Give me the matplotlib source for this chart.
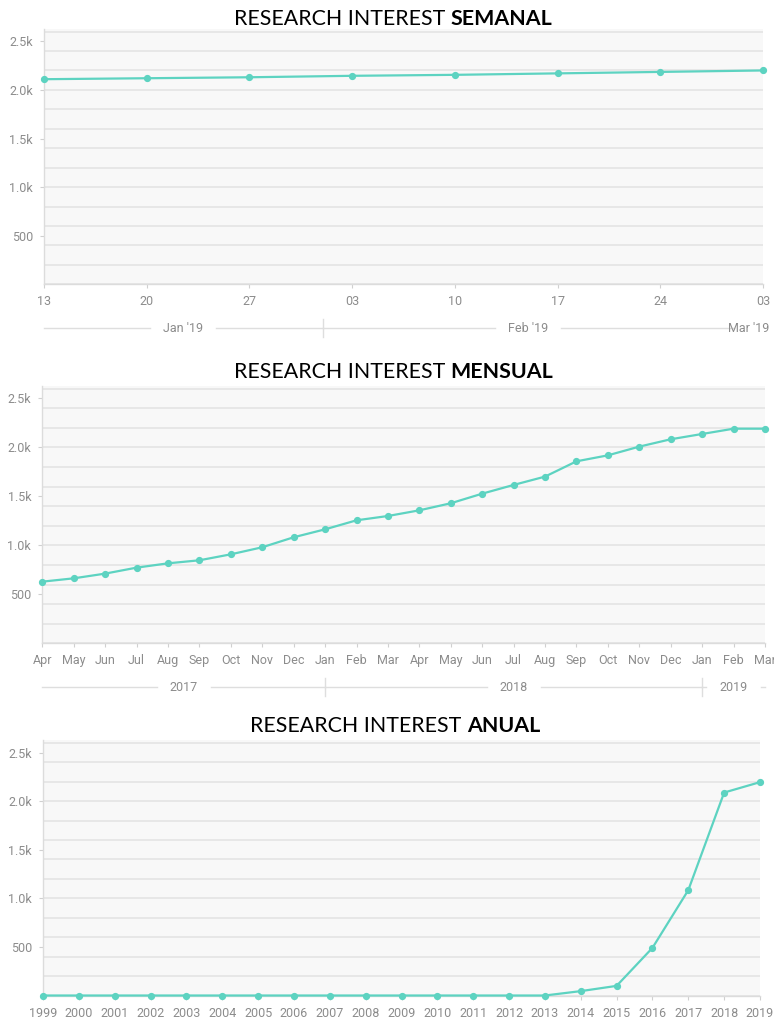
import numpy as np
import matplotlib
matplotlib.use("Agg")
import matplotlib.pyplot as plt
import matplotlib.transforms as mtransforms
from matplotlib.ticker import MultipleLocator, FixedLocator, FuncFormatter

W, H = 774, 1019

# weekly
week_dates = ["2019-01-13", "2019-01-20", "2019-01-27", "2019-02-03",
              "2019-02-10", "2019-02-17", "2019-02-24", "2019-03-03"]
week_values = [2110, 2120, 2130, 2145, 2155, 2170, 2185, 2200]

# monthly
month_labels = ["Apr", "May", "Jun", "Jul", "Aug", "Sep", "Oct", "Nov", "Dec",
                "Jan", "Feb", "Mar", "Apr", "May", "Jun", "Jul", "Aug", "Sep",
                "Oct", "Nov", "Dec", "Jan", "Feb", "Mar"]
month_years = [2017, 2017, 2017, 2017, 2017, 2017, 2017, 2017, 2017,
               2018, 2018, 2018, 2018, 2018, 2018, 2018, 2018, 2018,
               2018, 2018, 2018, 2019, 2019, 2019]
month_values = [629, 663, 711, 772, 816, 847, 908, 980, 1082, 1163, 1255, 1299,
                1357, 1429, 1527, 1616, 1701, 1857, 1918, 2007, 2082, 2136, 2190, 2190]

# yearly
years = [1999, 2000, 2001, 2002, 2003, 2004, 2005, 2006, 2007, 2008, 2009,
         2010, 2011, 2012, 2013, 2014, 2015, 2016, 2017, 2018, 2019]
year_values = [0, 0, 0, 0, 0, 0, 0, 0, 0, 0, 0, 0, 0, 0, 0,
               45, 99, 490, 1084, 2088, 2195]

LINE = "#5dd3c1"
TICK = "#8c8c8c"
GRID = "#e2e2e2"
YTOP = 2625

plt.rcParams["font.family"] = ["Roboto", "DejaVu Sans"]


def px_axes(fig, left, right, bottom, scale):
	top = bottom - YTOP * scale
	return fig.add_axes([left / W, 1 - bottom / H, (right - left) / W, (bottom - top) / H])


def style(ax):
	ax.set_facecolor("#f8f8f8")
	ax.set_ylim(0, YTOP)
	ax.yaxis.set_major_locator(FixedLocator([500, 1000, 1500, 2000, 2500]))
	ax.yaxis.set_major_formatter(FuncFormatter(lambda v, p: "%d" % v if v < 1000 else "%.1fk" % (v / 1000)))
	ax.yaxis.set_minor_locator(MultipleLocator(200))
	ax.yaxis.remove_overlapping_locs = False
	ax.grid(False, which="major")
	ax.grid(True, which="minor", axis="y", color=GRID, lw=1.1)
	ax.set_axisbelow(True)
	for s in ["top", "right"]:
		ax.spines[s].set_visible(False)
	for s in ["left", "bottom"]:
		ax.spines[s].set_color("#dcdcdc")
		ax.spines[s].set_linewidth(1.0)
	ax.tick_params(axis="y", which="major", length=3, width=0.8, color="#d0d0d0", pad=5, labelsize=9, labelcolor=TICK)
	ax.tick_params(axis="y", which="minor", length=0)
	ax.tick_params(axis="x", length=3, width=0.8, color="#d0d0d0", pad=5, labelsize=9, labelcolor=TICK)


def series(ax, x, y):
	ax.plot(x, y, color=LINE, lw=1.6, marker="o", ms=4.2, clip_on=False, zorder=4)


def title(fig, x, y, normal, bold):
	t = fig.text(x / W, 1 - y / H, normal, fontsize=15.4, family="Lato", va="baseline", ha="left")
	plt.annotate(bold, xy=(1, 0), xycoords=t, va="bottom", ha="left", fontsize=15.4, family="Lato",
		fontweight="bold", annotation_clip=False)


def group_row(fig, ax, groups, y, gap=13):
	trans = mtransforms.blended_transform_factory(ax.transData, ax.transAxes)
	renderer = fig.canvas.get_renderer()
	inv = ax.transData.inverted()
	x0 = groups[0][0]
	for start, end, label in groups:
		t = ax.text((start + end) / 2, y, label, transform=trans, ha="center", va="center",
			fontsize=9, color=TICK, clip_on=False)
		bb = t.get_window_extent(renderer)
		a = inv.transform((bb.x0 - gap, 0))[0]
		b = inv.transform((bb.x1 + gap, 0))[0]
		if a > start:
			ax.plot([start, a], [y, y], transform=trans, color="#dedede", lw=1, clip_on=False)
		if b < end:
			ax.plot([b, end], [y, y], transform=trans, color="#dedede", lw=1, clip_on=False)
		if start > x0 and not (a < start < b):
			ax.plot([start, start], [y - 0.035, y + 0.035], transform=trans, color="#dedede", lw=1, clip_on=False)


fig = plt.figure(figsize=(W / 100, H / 100), dpi=100)

# weekly panel
ax1 = px_axes(fig, 44, 763, 284.3, 0.0972)
style(ax1)
d = np.array(week_dates, dtype="datetime64[D]")
wx = (d - d[0]).astype(float)
series(ax1, wx, week_values)
ax1.set_xlim(wx[0], wx[-1])
ax1.set_xticks(wx)
ax1.set_xticklabels([s[-2:] for s in week_dates])
months = np.arange(d[0].astype("datetime64[M]"), d[-1].astype("datetime64[M]") + 1)
wgroups = []
for m in months:
	start = max((m.astype("datetime64[D]") - d[0]).astype(float), wx[0])
	end = min(((m + 1).astype("datetime64[D]") - d[0]).astype(float), wx[-1])
	name = m.astype(object).strftime("%b '%y")
	wgroups.append((start, end, name))
title(fig, 234, 25, "RESEARCH INTEREST ", "SEMANAL")

# monthly panel
ax2 = px_axes(fig, 42.3, 765, 643.3, 0.098)
style(ax2)
mx = np.arange(len(month_values))
series(ax2, mx, month_values)
ax2.set_xlim(0, len(month_values) - 1)
ax2.set_xticks(mx)
ax2.set_xticklabels(month_labels)
mgroups = []
for yr in sorted(set(month_years)):
	idx = [i for i, v in enumerate(month_years) if v == yr]
	end = idx[-1] + 1 if idx[-1] + 1 < len(month_years) else idx[-1]
	mgroups.append((idx[0], end, str(yr)))
title(fig, 234, 378, "RESEARCH INTEREST ", "MENSUAL")

# yearly panel
ax3 = px_axes(fig, 43, 760, 995.5, 0.0972)
style(ax3)
series(ax3, years, year_values)
ax3.set_xlim(years[0], years[-1])
ax3.set_xticks(years)
ax3.set_xticklabels([str(y) for y in years])
title(fig, 250, 732, "RESEARCH INTEREST ", "ANUAL")

fig.canvas.draw()
group_row(fig, ax1, wgroups, -0.172)
group_row(fig, ax2, mgroups, -0.17)

fig.savefig("out.png", dpi=100)
